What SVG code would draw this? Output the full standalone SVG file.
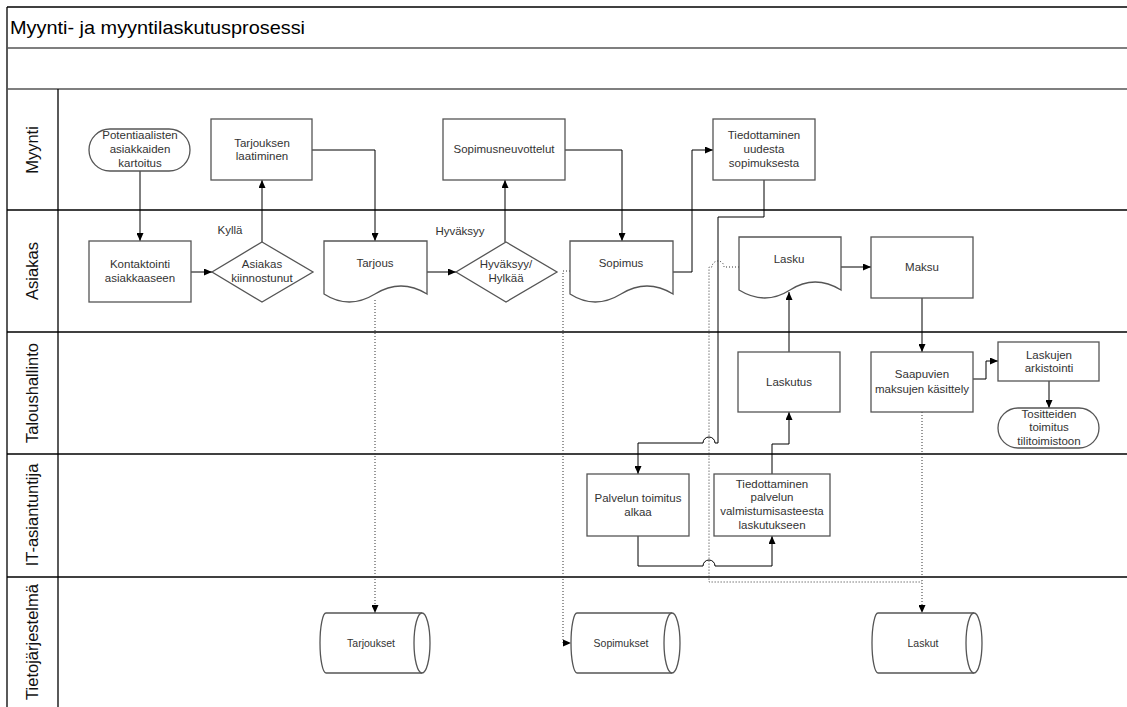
<svg xmlns="http://www.w3.org/2000/svg" width="1127" height="707" viewBox="0 0 1127 707">
<style>
text{font-family:"Liberation Sans",Arial,sans-serif}
.t{font-size:11.5px;fill:#333;text-anchor:middle}
.ts{font-size:10.5px;fill:#333;text-anchor:middle}
.lane{font-size:16.5px;fill:#111;text-anchor:middle}
.shp{fill:#fff;stroke:#555;stroke-width:1.3}
.ln{stroke:#000;stroke-width:1.3;fill:none}
.c{stroke:#000;stroke-width:1;fill:none}
.d{stroke:#333;stroke-width:1;fill:none;stroke-dasharray:1 2}
</style>
<defs>
<marker id="ah" markerWidth="8" markerHeight="7" refX="8" refY="3.5" orient="auto" markerUnits="userSpaceOnUse"><path d="M0,0 L8,3.5 L0,7 Z" fill="#000"/></marker>
</defs>
<rect width="1127" height="707" fill="#fff"/>
<g id="frame">
<line class="ln" x1="7" y1="7" x2="1127" y2="7"/>
<line class="ln" x1="7" y1="7" x2="7" y2="707"/>
<line x1="7" y1="48" x2="1127" y2="48" stroke="#555" stroke-width="1.6"/>
<line x1="7" y1="89" x2="1127" y2="89" stroke="#555" stroke-width="1.6"/>
<line class="ln" x1="7" y1="210" x2="1127" y2="210"/>
<line class="ln" x1="7" y1="332" x2="1127" y2="332"/>
<line class="ln" x1="7" y1="454" x2="1127" y2="454"/>
<line class="ln" x1="7" y1="577" x2="1127" y2="577"/>
<line class="ln" x1="58" y1="89" x2="58" y2="707"/>
<text x="10" y="34" font-size="19" fill="#000" textLength="295" lengthAdjust="spacingAndGlyphs">Myynti- ja myyntilaskutusprosessi</text>
<text class="lane" transform="translate(38,150) rotate(-90)">Myynti</text>
<text class="lane" transform="translate(38,271) rotate(-90)">Asiakas</text>
<text class="lane" transform="translate(38,393) rotate(-90)">Taloushallinto</text>
<text class="lane" transform="translate(38,515) rotate(-90)">IT-asiantuntija</text>
<text class="lane" transform="translate(38,642) rotate(-90)">Tietojärjestelmä</text>
</g>
<g id="connectors">
<path class="c" d="M140,171 V241" marker-end="url(#ah)"/>
<path class="c" d="M191,272 H212" marker-end="url(#ah)"/>
<path class="c" d="M262,242 V180" marker-end="url(#ah)"/>
<path class="c" d="M312,150 H375 V241" marker-end="url(#ah)"/>
<path class="c" d="M427,272 H456" marker-end="url(#ah)"/>
<path class="c" d="M505,242 V180" marker-end="url(#ah)"/>
<path class="c" d="M565,150 H622 V241" marker-end="url(#ah)"/>
<path class="c" d="M673,272 H692 V150 H713" marker-end="url(#ah)"/>
<path class="c" d="M764,180 V217 H718 V443 H715 A6,6 0 0 0 703,443 H638 V474" marker-end="url(#ah)"/>
<path class="c" d="M638,536 V566 H703 A6,6 0 0 1 715,566 H772 V536" marker-end="url(#ah)"/>
<path class="c" d="M772,474 V444 H789 V412" marker-end="url(#ah)"/>
<path class="c" d="M789,352 V292" marker-end="url(#ah)"/>
<path class="c" d="M841,267 H871" marker-end="url(#ah)"/>
<path class="c" d="M922,298 V352" marker-end="url(#ah)"/>
<path class="c" d="M973,379 H986 V361 H998" marker-end="url(#ah)"/>
<path class="c" d="M1049,381 V408" marker-end="url(#ah)"/>
<path class="d" d="M375,300 V613" marker-end="url(#ah)"/>
<path class="d" d="M570,271 H563 V643 H571" marker-end="url(#ah)"/>
<path class="d" d="M739,267 H724 A6,6 0 0 0 712,267 H709 V582 H922"/>
<path class="d" d="M922,412 V613" marker-end="url(#ah)"/>
<text x="230" y="234" class="t">Kyllä</text>
<text x="460" y="235" class="t">Hyväksyy</text>
</g>
<g id="n-potentiaalisten">
<rect class="shp" x="89" y="129" width="101" height="42" rx="21" ry="21"/>
<text class="t" x="140" y="139">Potentiaalisten</text>
<text class="t" x="140" y="153">asiakkaiden</text>
<text class="t" x="140" y="167">kartoitus</text>
</g>
<g id="n-tarjouksen">
<rect class="shp" x="211" y="119" width="101" height="61"/>
<text class="t" x="262" y="147">Tarjouksen</text>
<text class="t" x="262" y="160">laatiminen</text>
</g>
<g id="n-kontaktointi">
<rect class="shp" x="89" y="241" width="102" height="61"/>
<text class="t" x="140" y="268">Kontaktointi</text>
<text class="t" x="140" y="282">asiakkaaseen</text>
</g>
<g id="n-kiinnostunut">
<path class="shp" d="M262,242 L313,272 L262,302 L212,272 Z"/>
<text class="t" x="262" y="268">Asiakas</text>
<text class="t" x="262" y="282">kiinnostunut</text>
</g>
<g id="n-tarjous">
<path class="shp" d="M324,241 H427 V294 Q401,278 375,294 T324,294 Z"/>
<text class="t" x="375" y="267">Tarjous</text>
</g>
<g id="n-hyvaksyy">
<path class="shp" d="M506,242 L557,272 L506,302 L456,272 Z"/>
<text class="t" x="506" y="268">Hyväksyy/</text>
<text class="t" x="506" y="282">Hylkää</text>
</g>
<g id="n-sopimusneuvottelut">
<rect class="shp" x="443" y="119" width="122" height="61"/>
<text class="t" x="504" y="153">Sopimusneuvottelut</text>
</g>
<g id="n-sopimus">
<path class="shp" d="M570,241 H673 V294 Q647,278 621,294 T570,294 Z"/>
<text class="t" x="621" y="267">Sopimus</text>
</g>
<g id="n-tiedottaminen-uudesta">
<rect class="shp" x="713" y="119" width="102" height="61"/>
<text class="t" x="764" y="139">Tiedottaminen</text>
<text class="t" x="764" y="153">uudesta</text>
<text class="t" x="764" y="167">sopimuksesta</text>
</g>
<g id="n-lasku">
<path class="shp" d="M739,237 H841 V290 Q815,274 790,290 T739,290 Z"/>
<text class="t" x="789" y="263">Lasku</text>
</g>
<g id="n-maksu">
<rect class="shp" x="871" y="237" width="102" height="61"/>
<text class="t" x="922" y="271">Maksu</text>
</g>
<g id="n-laskutus">
<rect class="shp" x="738" y="352" width="102" height="60"/>
<text class="t" x="789" y="386">Laskutus</text>
</g>
<g id="n-saapuvien">
<rect class="shp" x="871" y="352" width="102" height="60"/>
<text class="t" x="922" y="378">Saapuvien</text>
<text class="t" x="922" y="393">maksujen käsittely</text>
</g>
<g id="n-laskujen-arkistointi">
<rect class="shp" x="998" y="342" width="101" height="39"/>
<text class="t" x="1049" y="359">Laskujen</text>
<text class="t" x="1049" y="372">arkistointi</text>
</g>
<g id="n-tositteiden">
<rect class="shp" x="998" y="408" width="101" height="40" rx="20" ry="20"/>
<text class="t" x="1049" y="418">Tositteiden</text>
<text class="t" x="1049" y="431">toimitus</text>
<text class="t" x="1049" y="445">tilitoimistoon</text>
</g>
<g id="n-palvelun">
<rect class="shp" x="587" y="474" width="102" height="62"/>
<text class="t" x="638" y="502">Palvelun toimitus</text>
<text class="t" x="638" y="516">alkaa</text>
</g>
<g id="n-tiedottaminen-palvelun">
<rect class="shp" x="714" y="474" width="116" height="62"/>
<text class="t" x="772" y="488">Tiedottaminen</text>
<text class="t" x="772" y="501">palvelun</text>
<text class="t" x="772" y="515">valmistumisasteesta</text>
<text class="t" x="772" y="529">laskutukseen</text>
</g>
<g id="n-tarjoukset">
<path class="shp" d="M326,613 H422 A8,30 0 0 1 422,673 H326 A6,30 0 0 1 326,613 Z"/>
<path class="shp" d="M422,613 A8,30 0 0 0 422,673" fill="none"/>
<text class="ts" x="371" y="647">Tarjoukset</text>
</g>
<g id="n-sopimukset">
<path class="shp" d="M577,613 H672 A8,30 0 0 1 672,673 H577 A6,30 0 0 1 577,613 Z"/>
<path class="shp" d="M672,613 A8,30 0 0 0 672,673" fill="none"/>
<text class="ts" x="621" y="647">Sopimukset</text>
</g>
<g id="n-laskut">
<path class="shp" d="M878,613 H974 A8,30 0 0 1 974,673 H878 A6,30 0 0 1 878,613 Z"/>
<path class="shp" d="M974,613 A8,30 0 0 0 974,673" fill="none"/>
<text class="ts" x="923" y="647">Laskut</text>
</g>
</svg>
